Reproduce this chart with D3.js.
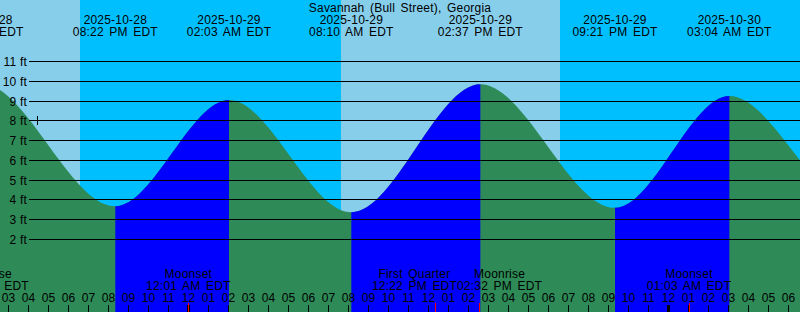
<!DOCTYPE html>
<html>
<head>
<meta charset="utf-8">
<script src="https://cdn.jsdelivr.net/npm/d3@7"></script>
<style>
  body { margin: 0; overflow: hidden; }
  text { font-family: "Liberation Sans", Arial, sans-serif; font-size: 12px; fill: #000;
         letter-spacing: 0.2px; word-spacing: 2px; }
</style>
</head>
<body>
<svg id="chart" width="800" height="312"></svg>
<script>
var title = "Savannah (Bull Street), Georgia";

// tide extremes (local EDT wall clock), heights in ft; first and last lie off the chart
var tideTimes = ["2025-10-28 07:15", "2025-10-28 13:39", "2025-10-28 20:22", "2025-10-29 02:03",
                 "2025-10-29 08:10", "2025-10-29 14:37", "2025-10-29 21:21", "2025-10-30 03:04",
                 "2025-10-30 09:25", "2025-10-30 15:40"];
var tideHeights = [3.4, 9.9, 3.68, 9.05, 3.38, 9.85, 3.6, 9.25, 3.7, 9.7];

// night = between sunset and sunrise
var nightStart = ["2025-10-28 18:36", "2025-10-29 18:36"];
var nightEnd = ["2025-10-29 07:39", "2025-10-30 07:40"];

var moonTimes = ["2025-10-28 13:55", "2025-10-29 00:01", "2025-10-29 12:22", "2025-10-29 14:32", "2025-10-30 01:03"];
var moonEvents = ["Moonrise", "Moonset", "First Quarter", "Moonrise", "Moonset"];

var heightTicks = [2, 3, 4, 5, 6, 7, 8, 9, 10, 11];
var nowTime = "2025-10-28 16:27", nowHeight = 8;

var W = 800, H = 312;
var parse = d3.utcParse("%Y-%m-%d %H:%M");
var fmtDate = d3.utcFormat("%Y-%m-%d");
var fmtTime = d3.utcFormat("%I:%M %p EDT");
var fmtHour = d3.utcFormat("%I");

var x = d3.scaleUtc()
    .domain([parse("2025-10-28 14:36"), parse("2025-10-30 06:36")])
    .range([0, W]);
var y = d3.scaleLinear().domain([2, 11]).range([239.5, 61.5]);

var svg = d3.select("#chart");

// day / night background
svg.append("rect").attr("width", W).attr("height", H).attr("fill", "#87ceeb");
svg.selectAll(".night").data(nightStart).enter().append("rect")
    .attr("x", function(d) { return x(parse(d)); })
    .attr("width", function(d, i) { return x(parse(nightEnd[i])) - x(parse(d)); })
    .attr("y", 0).attr("height", H)
    .attr("fill", "#00bfff");

var tides = tideTimes.map(function(t, i) { return {t: parse(t), h: tideHeights[i]}; });

var area = d3.area()
    .x(function(d) { return x(d.t); })
    .y0(H)
    .y1(function(d) { return y(d.h); })
    .curve(d3.curveMonotoneX);

// rising tide shown in blue: clip to low -> high intervals
var clip = svg.append("defs").append("clipPath").attr("id", "rising");
tides.forEach(function(d, i) {
    if (i < tides.length - 1 && tides[i + 1].h > d.h) {
        clip.append("rect")
            .attr("x", x(d.t)).attr("width", x(tides[i + 1].t) - x(d.t))
            .attr("y", 0).attr("height", H);
    }
});

svg.append("path").datum(tides).attr("d", area).attr("fill", "#2e8b57");
svg.append("path").datum(tides).attr("d", area).attr("fill", "#0000ff")
    .attr("clip-path", "url(#rising)");

// height lines
heightTicks.forEach(function(v) {
    var yy = Math.floor(y(v)) + 0.5;
    svg.append("line").attr("x1", 29).attr("x2", W).attr("y1", yy).attr("y2", yy)
        .attr("stroke", "#000").attr("stroke-width", 1);
    svg.append("text").attr("x", 27).attr("y", yy + 4.5).attr("text-anchor", "end")
        .style("word-spacing", "0px").text(v + " ft");
});

// now mark
var nx = Math.round(x(parse(nowTime))) + 0.5;
svg.append("line").attr("x1", nx).attr("x2", nx)
    .attr("y1", Math.floor(y(nowHeight)) - 4).attr("y2", Math.floor(y(nowHeight)) + 5)
    .attr("stroke", "#000");

// title and tide labels
svg.append("text").attr("x", W / 2).attr("y", 12).attr("text-anchor", "middle").text(title);
tides.forEach(function(d) {
    var g = svg.append("g").attr("text-anchor", "middle");
    g.append("text").attr("x", x(d.t)).attr("y", 24).text(fmtDate(d.t));
    g.append("text").attr("x", x(d.t)).attr("y", 36).text(fmtTime(d.t));
});

// hour ticks and labels
var hours = x.ticks(d3.utcHour.every(1));
hours.forEach(function(h) {
    var hx = Math.round(x(h));
    var mid = h.getUTCHours() === 0;
    svg.append("rect").attr("x", mid ? hx - 1 : hx).attr("width", mid ? 3 : 1)
        .attr("y", 305).attr("height", 7).attr("fill", "#000");
    svg.append("text").attr("x", hx + 0.5).attr("y", 302).attr("text-anchor", "middle")
        .style("letter-spacing", "0px").text(fmtHour(h));
});

// moon events: red ticks, labels centred and pushed apart when they collide
var moon = moonTimes.map(function(t, i) { return {t: parse(t), name: moonEvents[i]}; });
moon.forEach(function(d) {
    d.x = x(d.t);
    svg.append("rect").attr("x", Math.round(d.x)).attr("width", 1)
        .attr("y", 303).attr("height", 9).attr("fill", "#ff0000");
    d.g = svg.append("g").attr("text-anchor", "middle");
    var a = d.g.append("text").attr("y", 278).text(d.name);
    var b = d.g.append("text").attr("y", 290).text(fmtTime(d.t));
    d.w = Math.max(a.node().getComputedTextLength(), b.node().getComputedTextLength());
    d.cx = d.x;
});
for (var i = 1; i < moon.length; i++) {
    var p = moon[i - 1], q = moon[i];
    var overlap = (p.cx + p.w / 2) - (q.cx - q.w / 2);
    if (overlap > 0) { p.cx -= overlap / 2; q.cx += overlap / 2; }
}
moon.forEach(function(d) { d.g.selectAll("text").attr("x", d.cx); });
</script>
</body>
</html>
